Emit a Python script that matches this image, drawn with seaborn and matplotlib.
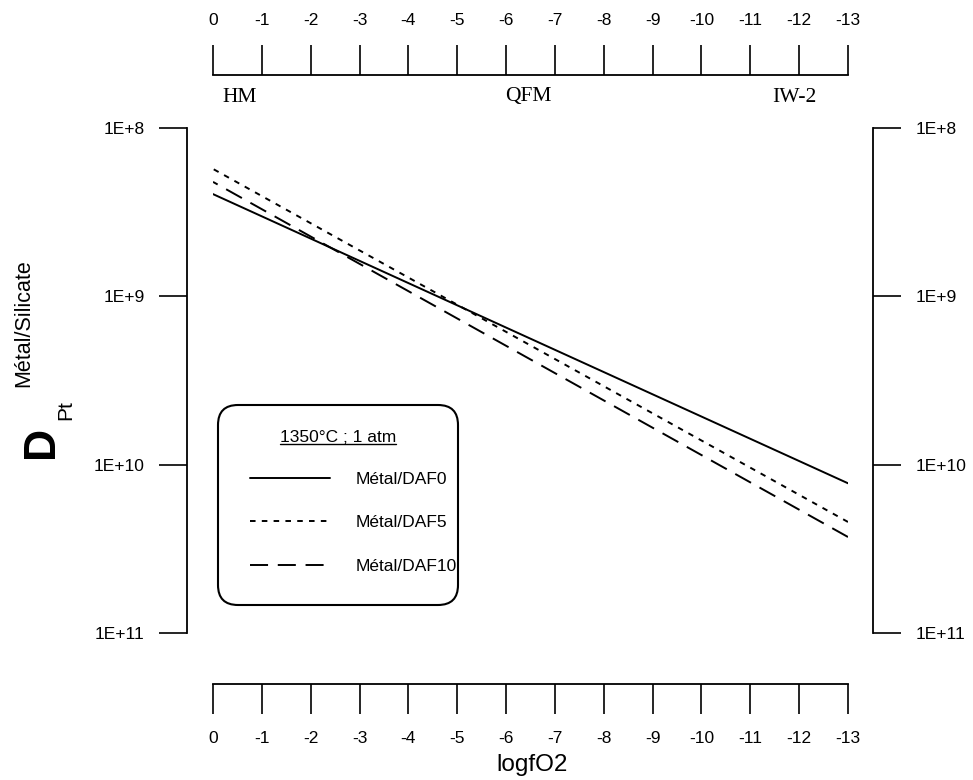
import pandas as pd
import matplotlib
matplotlib.use("Agg")
import matplotlib.pyplot as plt
import matplotlib.transforms as mtransforms
from matplotlib.patches import FancyBboxPatch
from matplotlib.ticker import NullLocator
import seaborn as sns

# values (lines are straight on the log axis)
logfo2 = [0, -13]
d_daf0 = [2.47e8, 1.29e10]
d_daf5 = [1.75e8, 2.19e10]
d_daf10 = [2.09e8, 2.69e10]
series_names = ["Métal/DAF0", "Métal/DAF5", "Métal/DAF10"]

x_ticks = list(range(0, -14, -1))
y_ticks = [1e8, 1e9, 1e10, 1e11]
y_tick_labels = ["1E+8", "1E+9", "1E+10", "1E+11"]
buffer_names = ["HM", "QFM", "IW-2"]
buffer_pos = [-0.55, -6.45, -11.9]

df = pd.DataFrame({
    "logfO2": logfo2 * 3,
    "D": d_daf0 + d_daf5 + d_daf10,
    "serie": [n for n in series_names for _ in logfo2],
})

sns.set_theme(style="white")
plt.rcParams["font.family"] = ["Liberation Sans", "DejaVu Sans"]
plt.rcParams["axes.unicode_minus"] = False
plt.rcParams["lines.scale_dashes"] = False
for key in ["text.color", "axes.labelcolor", "xtick.color", "ytick.color"]:
    plt.rcParams[key] = "black"

W, H = 973, 780
fig = plt.figure(figsize=(W / 100, H / 100), dpi=100)


def fx(px):
    return px / W


def fy(py):
    return 1 - py / H


ax = fig.add_axes([fx(213), fy(633), fx(848) - fx(213), fy(128) - fy(633)])

dashes = {"Métal/DAF0": "", "Métal/DAF5": (4, 4.5), "Métal/DAF10": (13, 7)}
sns.lineplot(data=df, x="logfO2", y="D", style="serie", style_order=series_names,
             dashes=dashes, color="black", linewidth=1.4, ax=ax, legend=False)

ax.set_yscale("log")
ax.set_xlim(0, -13)
ax.set_ylim(1e11, 1e8)
ax.set_xticks(x_ticks)
ax.set_xticklabels([str(t) for t in x_ticks])
ax.set_yticks(y_ticks)
ax.set_yticklabels(y_tick_labels)
ax.yaxis.set_minor_locator(NullLocator())
ax.set_xlabel("")
ax.set_ylabel("")

# detached axes on all four sides
for side, off in [("left", 18.7), ("right", 18), ("bottom", 36.7), ("top", 38.2)]:
    ax.spines[side].set_visible(True)
    ax.spines[side].set_color("black")
    ax.spines[side].set_linewidth(1.3)
    ax.spines[side].set_position(("outward", off))

ax.tick_params(axis="x", which="major", bottom=True, top=True, labelbottom=True,
               labeltop=True, direction="out", length=21.6, width=1.2,
               color="black", labelcolor="black", labelsize=12.5, pad=12)
ax.tick_params(axis="y", which="major", left=True, right=True, labelleft=True,
               labelright=True, direction="out", length=20, width=1.2,
               color="black", labelcolor="black", labelsize=12.5, pad=10.5)

# buffer names under the top axis
blend = mtransforms.blended_transform_factory(ax.transData, fig.transFigure)
for name, pos in zip(buffer_names, buffer_pos):
    ax.text(pos, fy(97), name, transform=blend, ha="center", va="center",
            fontsize=15.5, family="Liberation Serif", color="black")

fig.text(fx(532), fy(765), "logfO2", ha="center", va="center", fontsize=17.5)

# y label: D with superscript / subscript
fig.text(fx(42), fy(442), "D", rotation=90, ha="center", va="center",
         fontsize=32, fontweight="bold")
fig.text(fx(24), fy(323), "Métal/Silicate", rotation=90, ha="center",
         va="center", fontsize=15.5)
fig.text(fx(66), fy(410), "Pt", rotation=90, ha="center", va="center",
         fontsize=15)

# legend box (rounded frame drawn behind the legend entries)
box = FancyBboxPatch((218, H - 605), 240, 200,
                     boxstyle="round,pad=0,rounding_size=20",
                     transform=mtransforms.IdentityTransform(),
                     facecolor="white", edgecolor="black", linewidth=1.5,
                     clip_on=False, zorder=3)
ax.add_artist(box)

leg = ax.legend(handles=ax.get_lines()[:3], labels=series_names,
                loc="upper left", bbox_to_anchor=(fx(250), fy(472)),
                bbox_transform=fig.transFigure, frameon=False, fontsize=12.5,
                handlelength=4.6, handletextpad=1.5, labelspacing=1.62,
                borderpad=0, borderaxespad=0)
leg.set_zorder(5)

title = fig.text(fx(338), fy(437), "1350°C ; 1 atm", ha="center",
                 va="center", fontsize=12.5, zorder=5)
fig.canvas.draw()
bb = title.get_window_extent()
fig.add_artist(plt.Line2D([bb.x0, bb.x1], [bb.y0 + 1, bb.y0 + 1],
                          transform=mtransforms.IdentityTransform(),
                          color="black", linewidth=1.0, zorder=5))

fig.savefig("out.png", dpi=100)
